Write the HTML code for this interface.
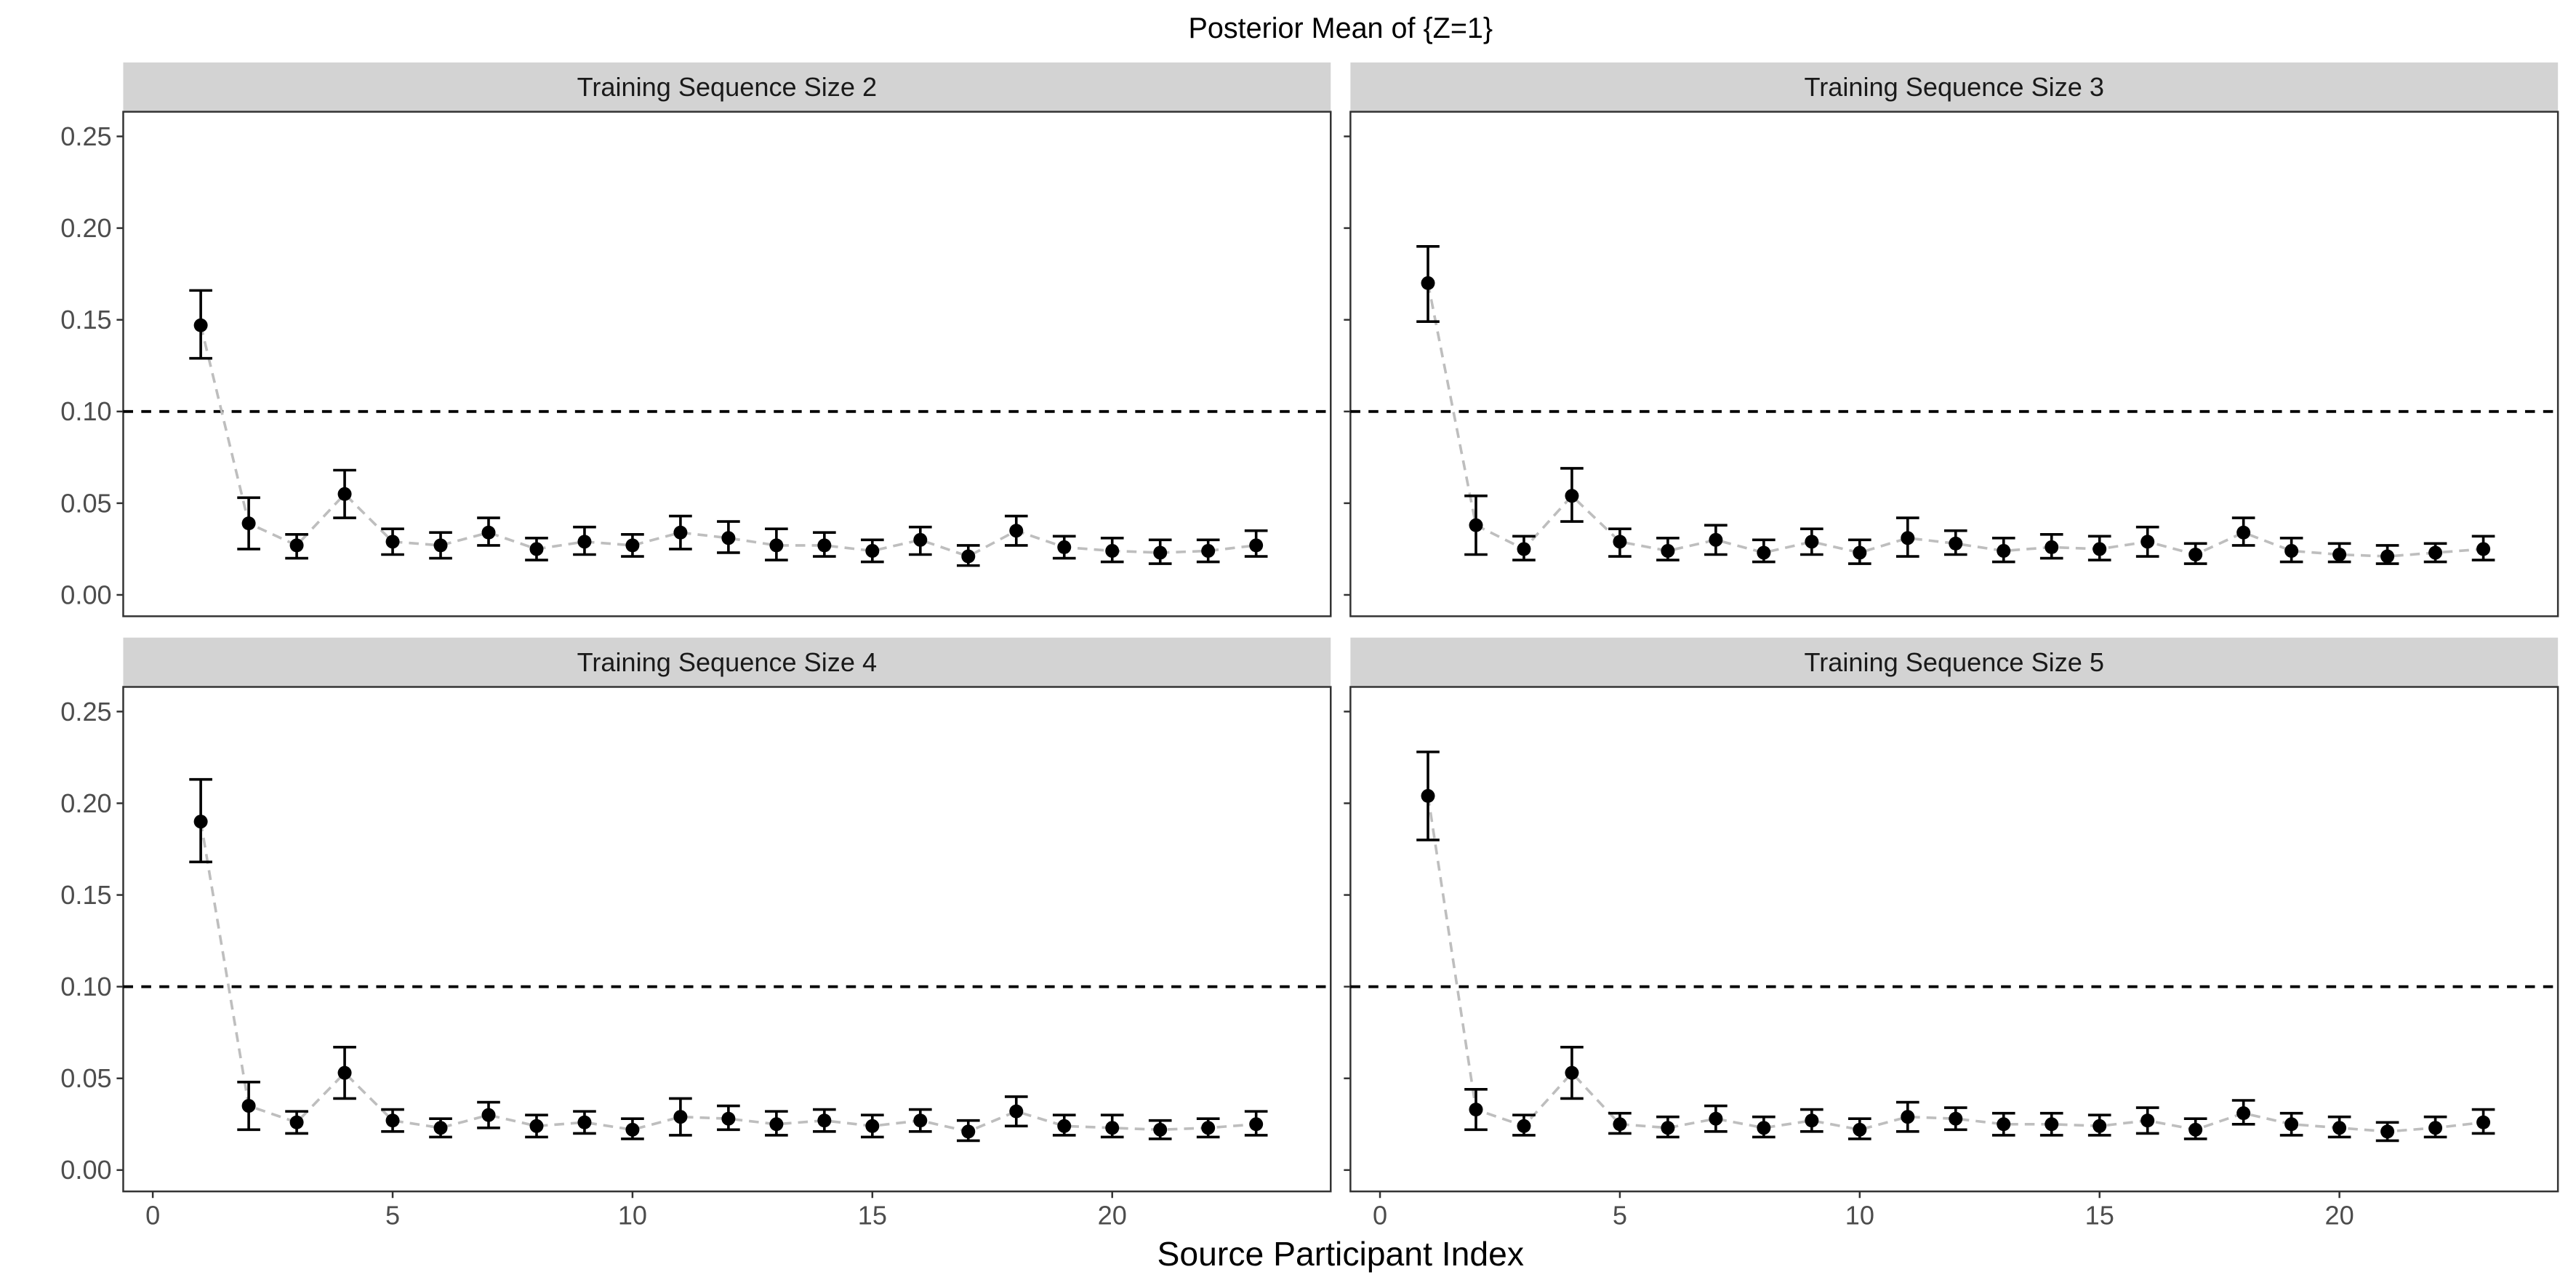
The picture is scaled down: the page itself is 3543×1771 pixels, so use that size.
<!DOCTYPE html>
<html><head><meta charset="utf-8"><style>
html,body{margin:0;padding:0;background:#fff;}
svg{display:block;font-family:"Liberation Sans",Arial,sans-serif;}
</style></head><body>
<svg id="chart" width="3543" height="1771" viewBox="0 0 1568 783.77" xmlns="http://www.w3.org/2000/svg">
<rect width="1568" height="784" fill="#fff"/>
<text x="816" y="23" text-anchor="middle" font-size="17.5" fill="#000">Posterior Mean of {Z=1}</text>
<text x="816" y="770" text-anchor="middle" font-size="20.5" fill="#000">Source Participant Index</text>
<g id="panels"></g>
</svg>
<script>
const idx = [1,2,3,4,5,6,7,8,9,10,11,12,13,14,15,16,17,18,19,20,21,22,23];
const panelTitles = ["Training Sequence Size 2","Training Sequence Size 3","Training Sequence Size 4","Training Sequence Size 5"];
const mean2 = [0.147,0.039,0.027,0.055,0.029,0.027,0.034,0.025,0.029,0.027,0.034,0.031,0.027,0.027,0.024,0.030,0.021,0.035,0.026,0.024,0.023,0.024,0.027];
const lo2 = [0.129,0.025,0.020,0.042,0.022,0.020,0.027,0.019,0.022,0.021,0.025,0.023,0.019,0.021,0.018,0.022,0.016,0.027,0.020,0.018,0.017,0.018,0.021];
const hi2 = [0.166,0.053,0.033,0.068,0.036,0.034,0.042,0.031,0.037,0.033,0.043,0.040,0.036,0.034,0.030,0.037,0.027,0.043,0.032,0.031,0.030,0.030,0.035];
const mean3 = [0.170,0.038,0.025,0.054,0.029,0.024,0.030,0.023,0.029,0.023,0.031,0.028,0.024,0.026,0.025,0.029,0.022,0.034,0.024,0.022,0.021,0.023,0.025];
const lo3 = [0.149,0.022,0.019,0.040,0.021,0.019,0.022,0.018,0.022,0.017,0.021,0.022,0.018,0.020,0.019,0.021,0.017,0.027,0.018,0.018,0.017,0.018,0.019];
const hi3 = [0.190,0.054,0.032,0.069,0.036,0.031,0.038,0.030,0.036,0.030,0.042,0.035,0.031,0.033,0.032,0.037,0.028,0.042,0.031,0.028,0.027,0.028,0.032];
const mean4 = [0.190,0.035,0.026,0.053,0.027,0.023,0.030,0.024,0.026,0.022,0.029,0.028,0.025,0.027,0.024,0.027,0.021,0.032,0.024,0.023,0.022,0.023,0.025];
const lo4 = [0.168,0.022,0.020,0.039,0.021,0.018,0.023,0.018,0.020,0.017,0.019,0.022,0.019,0.021,0.018,0.021,0.016,0.024,0.019,0.018,0.017,0.018,0.019];
const hi4 = [0.213,0.048,0.032,0.067,0.033,0.028,0.037,0.030,0.032,0.028,0.039,0.035,0.032,0.033,0.030,0.033,0.027,0.040,0.030,0.030,0.027,0.028,0.032];
const mean5 = [0.204,0.033,0.024,0.053,0.025,0.023,0.028,0.023,0.027,0.022,0.029,0.028,0.025,0.025,0.024,0.027,0.022,0.031,0.025,0.023,0.021,0.023,0.026];
const lo5 = [0.180,0.022,0.019,0.039,0.020,0.018,0.021,0.018,0.021,0.017,0.021,0.022,0.019,0.019,0.019,0.020,0.017,0.025,0.019,0.018,0.016,0.018,0.020];
const hi5 = [0.228,0.044,0.030,0.067,0.031,0.029,0.035,0.029,0.033,0.028,0.037,0.034,0.031,0.031,0.030,0.034,0.028,0.038,0.031,0.029,0.026,0.029,0.033];
const yTicks = [0,0.05,0.10,0.15,0.20,0.25];
const yTickLabels = ["0.00","0.05","0.10","0.15","0.20","0.25"];
const xTicks = [0,5,10,15,20];
const refLine = 0.10;

const means=[mean2,mean3,mean4,mean5], los=[lo2,lo3,lo4,lo5], his=[hi2,hi3,hi4,hi5];
const NS="http://www.w3.org/2000/svg";
const root=document.getElementById('panels');
function mk(tag,attrs,parent){const e=document.createElementNS(NS,tag);for(const k in attrs)e.setAttribute(k,attrs[k]);parent.appendChild(e);return e;}
const layout=[{x0:75,x1:810,y0:68,y1:375,s0:38},{x0:822,x1:1557,y0:68,y1:375,s0:38},{x0:75,x1:810,y0:418,y1:725,s0:388},{x0:822,x1:1557,y0:418,y1:725,s0:388}];
for(let p=0;p<4;p++){
  const L=layout[p];
  const xs=v=>L.x0+18+v*29.2;
  const ys=v=>L.y1-13-v/0.25*279;
  const g=mk('g',{},root);
  
  
  const strip=mk('rect',{x:L.x0,y:L.s0,width:L.x1-L.x0,height:L.y0-L.s0,fill:'#d3d3d3'},g);
  
  
  const st=mk('text',{x:(L.x0+L.x1)/2,y:L.s0+20.5,'text-anchor':'middle','font-size':'16','fill':'#1a1a1a'},g);
  st.textContent=panelTitles[p];
  
  
  const bg=mk('rect',{x:L.x0,y:L.y0,width:L.x1-L.x0,height:L.y1-L.y0,fill:'#fff',stroke:'#333','stroke-width':'1.1'},g);
  
  
  yTicks.forEach((t,i)=>{
    mk('line',{x1:L.x0-4,x2:L.x0,y1:ys(t),y2:ys(t),stroke:'#333','stroke-width':'1.1'},g);
    if(p%2===0){const tx=mk('text',{x:L.x0-7,y:ys(t)+5.5,'text-anchor':'end','font-size':'16',fill:'#4d4d4d'},g);tx.textContent=yTickLabels[i];
      
      }
  });
  if(p>=2){xTicks.forEach(t=>{
    mk('line',{x1:xs(t),x2:xs(t),y1:L.y1,y2:L.y1+4,stroke:'#333','stroke-width':'1.1'},g);
    const tx=mk('text',{x:xs(t),y:L.y1+20,'text-anchor':'middle','font-size':'16',fill:'#4d4d4d'},g);tx.textContent=t;
    
    
  });}
  const hl=mk('line',{x1:L.x0,x2:L.x1,y1:ys(refLine),y2:ys(refLine),stroke:'#000','stroke-width':'1.7','stroke-dasharray':'6,5'},g);
  
  
  const m=means[p],lo=los[p],hi=his[p];
  const pl=mk('polyline',{points:idx.map((x,i)=>xs(x)+','+ys(m[i])).join(' '),fill:'none',stroke:'#bebebe','stroke-width':'1.6','stroke-dasharray':'6,4'},g);
  
  
  idx.forEach((x,i)=>{
    const eb=mk('path',{d:`M${xs(x)-7},${ys(hi[i])}H${xs(x)+7}M${xs(x)},${ys(hi[i])}V${ys(lo[i])}M${xs(x)-7},${ys(lo[i])}H${xs(x)+7}`,stroke:'#000','stroke-width':'1.6',fill:'none'},g);
    
    
    const c=mk('circle',{cx:xs(x),cy:ys(m[i]),r:'4.2',fill:'#000'},g);
    
    
  });
}
</script>
</body></html>
